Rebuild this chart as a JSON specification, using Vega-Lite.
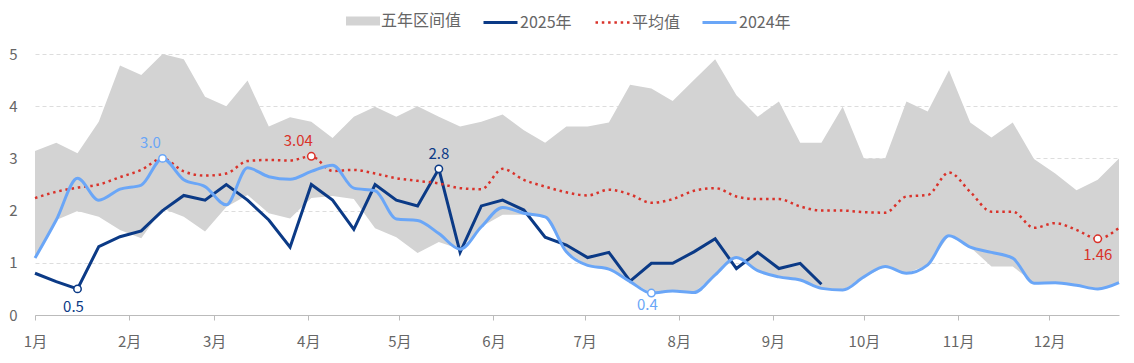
{
  "$schema": "https://vega.github.io/schema/vega-lite/v6.json",
  "width": 1084,
  "height": 261,
  "autosize": "none",
  "padding": {"left": 35, "top": 54, "right": 15, "bottom": 48},
  "background": "white",
  "config": {
    "view": {"stroke": null},
    "font": "Noto Sans CJK SC",
    "axis": {"labelFont": "Noto Sans CJK SC", "labelFontSize": 15, "labelColor": "#666666", "title": null},
    "legend": {"orient": "none", "direction": "horizontal", "title": null, "symbolSize": 1156, "labelFont": "Noto Sans CJK SC", "labelFontSize": 16, "labelColor": "#666666", "labelOffset": 1, "padding": 0}
  },
  "datasets": {
    "main": [
      {"d": "2025-01-01", "lo": 1.09, "hi": 3.14, "a": 2.24, "y24": 1.09, "y25": 0.80},
      {"d": "2025-01-08", "lo": 1.82, "hi": 3.30, "a": 2.36, "y24": 1.82, "y25": 0.64},
      {"d": "2025-01-15", "lo": 1.99, "hi": 3.10, "a": 2.44, "y24": 2.62, "y25": 0.50},
      {"d": "2025-01-22", "lo": 1.88, "hi": 3.70, "a": 2.50, "y24": 2.20, "y25": 1.31},
      {"d": "2025-01-29", "lo": 1.63, "hi": 4.78, "a": 2.64, "y24": 2.41, "y25": 1.50},
      {"d": "2025-02-05", "lo": 1.47, "hi": 4.60, "a": 2.78, "y24": 2.49, "y25": 1.61},
      {"d": "2025-02-12", "lo": 2.04, "hi": 5.00, "a": 3.00, "y24": 3.00, "y25": 2.00},
      {"d": "2025-02-19", "lo": 1.88, "hi": 4.90, "a": 2.75, "y24": 2.59, "y25": 2.29},
      {"d": "2025-02-26", "lo": 1.60, "hi": 4.18, "a": 2.67, "y24": 2.46, "y25": 2.20},
      {"d": "2025-03-05", "lo": 2.07, "hi": 4.00, "a": 2.71, "y24": 2.11, "y25": 2.50},
      {"d": "2025-03-12", "lo": 2.30, "hi": 4.49, "a": 2.95, "y24": 2.82, "y25": 2.20},
      {"d": "2025-03-19", "lo": 1.95, "hi": 3.61, "a": 2.97, "y24": 2.65, "y25": 1.82},
      {"d": "2025-03-26", "lo": 1.85, "hi": 3.79, "a": 2.96, "y24": 2.60, "y25": 1.30},
      {"d": "2025-04-02", "lo": 2.24, "hi": 3.70, "a": 3.04, "y24": 2.75, "y25": 2.50},
      {"d": "2025-04-09", "lo": 2.28, "hi": 3.39, "a": 2.76, "y24": 2.87, "y25": 2.20},
      {"d": "2025-04-16", "lo": 2.22, "hi": 3.80, "a": 2.78, "y24": 2.43, "y25": 1.64},
      {"d": "2025-04-23", "lo": 1.66, "hi": 3.99, "a": 2.71, "y24": 2.38, "y25": 2.50},
      {"d": "2025-04-30", "lo": 1.49, "hi": 3.80, "a": 2.62, "y24": 1.84, "y25": 2.20},
      {"d": "2025-05-07", "lo": 1.19, "hi": 4.00, "a": 2.57, "y24": 1.81, "y25": 2.09},
      {"d": "2025-05-14", "lo": 1.40, "hi": 3.80, "a": 2.52, "y24": 1.56, "y25": 2.80},
      {"d": "2025-05-21", "lo": 1.26, "hi": 3.61, "a": 2.43, "y24": 1.26, "y25": 1.20},
      {"d": "2025-05-28", "lo": 1.69, "hi": 3.70, "a": 2.41, "y24": 1.69, "y25": 2.09},
      {"d": "2025-06-04", "lo": 1.92, "hi": 3.84, "a": 2.80, "y24": 2.06, "y25": 2.20},
      {"d": "2025-06-11", "lo": 1.92, "hi": 3.54, "a": 2.59, "y24": 1.95, "y25": 2.01},
      {"d": "2025-06-18", "lo": 1.88, "hi": 3.30, "a": 2.46, "y24": 1.88, "y25": 1.49},
      {"d": "2025-06-25", "lo": 1.21, "hi": 3.61, "a": 2.35, "y24": 1.21, "y25": 1.34},
      {"d": "2025-07-02", "lo": 0.95, "hi": 3.61, "a": 2.29, "y24": 0.95, "y25": 1.10},
      {"d": "2025-07-09", "lo": 0.88, "hi": 3.69, "a": 2.40, "y24": 0.88, "y25": 1.20},
      {"d": "2025-07-16", "lo": 0.64, "hi": 4.41, "a": 2.31, "y24": 0.64, "y25": 0.65},
      {"d": "2025-07-23", "lo": 0.42, "hi": 4.34, "a": 2.15, "y24": 0.42, "y25": 0.99},
      {"d": "2025-07-30", "lo": 0.46, "hi": 4.10, "a": 2.22, "y24": 0.46, "y25": 0.99},
      {"d": "2025-08-06", "lo": 0.43, "hi": 4.50, "a": 2.38, "y24": 0.43, "y25": 1.21},
      {"d": "2025-08-13", "lo": 0.77, "hi": 4.90, "a": 2.43, "y24": 0.77, "y25": 1.46},
      {"d": "2025-08-20", "lo": 1.10, "hi": 4.21, "a": 2.27, "y24": 1.10, "y25": 0.89},
      {"d": "2025-08-27", "lo": 0.85, "hi": 3.80, "a": 2.22, "y24": 0.85, "y25": 1.20},
      {"d": "2025-09-03", "lo": 0.73, "hi": 4.09, "a": 2.22, "y24": 0.73, "y25": 0.89},
      {"d": "2025-09-10", "lo": 0.67, "hi": 3.30, "a": 2.08, "y24": 0.67, "y25": 0.99},
      {"d": "2025-09-17", "lo": 0.51, "hi": 3.30, "a": 2.00, "y24": 0.51, "y25": 0.59},
      {"d": "2025-09-24", "lo": 0.48, "hi": 3.99, "a": 2.00, "y24": 0.48},
      {"d": "2025-10-01", "lo": 0.73, "hi": 3.00, "a": 1.97, "y24": 0.73},
      {"d": "2025-10-08", "lo": 0.93, "hi": 3.00, "a": 1.96, "y24": 0.93},
      {"d": "2025-10-15", "lo": 0.80, "hi": 4.09, "a": 2.27, "y24": 0.80},
      {"d": "2025-10-22", "lo": 0.96, "hi": 3.90, "a": 2.30, "y24": 0.96},
      {"d": "2025-10-29", "lo": 1.52, "hi": 4.69, "a": 2.73, "y24": 1.52},
      {"d": "2025-11-05", "lo": 1.30, "hi": 3.69, "a": 2.36, "y24": 1.30},
      {"d": "2025-11-12", "lo": 0.93, "hi": 3.40, "a": 1.98, "y24": 1.20},
      {"d": "2025-11-19", "lo": 0.93, "hi": 3.69, "a": 1.98, "y24": 1.09},
      {"d": "2025-11-26", "lo": 0.61, "hi": 2.99, "a": 1.67, "y24": 0.61},
      {"d": "2025-12-03", "lo": 0.62, "hi": 2.71, "a": 1.76, "y24": 0.62},
      {"d": "2025-12-10", "lo": 0.57, "hi": 2.39, "a": 1.63, "y24": 0.57},
      {"d": "2025-12-17", "lo": 0.50, "hi": 2.59, "a": 1.46, "y24": 0.50},
      {"d": "2025-12-24", "lo": 0.62, "hi": 3.00, "a": 1.67, "y24": 0.62}
    ],
    "ann": [
      {"d": "2025-01-15", "v": 0.50, "series": "2025年", "kind": "min", "label": "0.5"},
      {"d": "2025-05-14", "v": 2.80, "series": "2025年", "kind": "max", "label": "2.8"},
      {"d": "2025-02-12", "v": 3.00, "series": "2024年", "kind": "max", "label": "3.0"},
      {"d": "2025-07-23", "v": 0.42, "series": "2024年", "kind": "min", "label": "0.4"},
      {"d": "2025-04-02", "v": 3.04, "series": "平均值", "kind": "max", "label": "3.04"},
      {"d": "2025-12-17", "v": 1.46, "series": "平均值", "kind": "min", "label": "1.46"}
    ]
  },
  "encoding": {
    "x": {
      "field": "d", "type": "temporal",
      "scale": {"type": "utc", "nice": false, "domain": [{"year": 2025, "month": 1, "date": 1, "utc": true}, {"year": 2025, "month": 12, "date": 24, "utc": true}]},
      "axis": {
        "values": [
          {"year": 2025, "month": 1, "date": 1, "utc": true},
          {"year": 2025, "month": 2, "date": 1, "utc": true},
          {"year": 2025, "month": 3, "date": 1, "utc": true},
          {"year": 2025, "month": 4, "date": 1, "utc": true},
          {"year": 2025, "month": 5, "date": 1, "utc": true},
          {"year": 2025, "month": 6, "date": 1, "utc": true},
          {"year": 2025, "month": 7, "date": 1, "utc": true},
          {"year": 2025, "month": 8, "date": 1, "utc": true},
          {"year": 2025, "month": 9, "date": 1, "utc": true},
          {"year": 2025, "month": 10, "date": 1, "utc": true},
          {"year": 2025, "month": 11, "date": 1, "utc": true},
          {"year": 2025, "month": 12, "date": 1, "utc": true}
        ],
        "format": "%-m月", "grid": false, "labelFlush": false, "labelOverlap": false,
        "domainColor": "#bbbbbb", "tickColor": "#bbbbbb", "tickSize": 5, "labelPadding": 14
      }
    }
  },
  "layer": [
    {
      "data": {"name": "main"},
      "mark": {"type": "area", "opacity": 1},
      "encoding": {
        "y": {"field": "lo", "type": "quantitative", "scale": {"domain": [0, 5], "nice": false},
          "axis": {"values": [0, 1, 2, 3, 4, 5], "domain": false, "ticks": false, "labelPadding": 18,
            "gridColor": "#dddddd", "gridDash": [4, 3]}},
        "y2": {"field": "hi"},
        "fill": {
          "datum": "五年区间值",
          "scale": {"domain": ["五年区间值"], "range": ["#d3d3d3"]},
          "legend": {"legendX": 311, "legendY": -50, "symbolType": "M-1,-0.26H1V0.26H-1Z", "symbolStrokeWidth": 0, "symbolOpacity": 1}
        }
      }
    },
    {
      "data": {"name": "main"},
      "mark": {"type": "line", "strokeWidth": 3},
      "encoding": {
        "y": {"field": "y25", "type": "quantitative"},
        "stroke": {
          "datum": "2025年",
          "scale": {"domain": ["2025年"], "range": ["#0b3a86"]},
          "legend": {"legendX": 447, "legendY": -50, "symbolType": "stroke", "symbolStrokeWidth": 3}
        }
      }
    },
    {
      "data": {"name": "main"},
      "mark": {"type": "line", "color": "#d9322a", "strokeWidth": 2.5, "interpolate": "monotone"},
      "encoding": {
        "y": {"field": "a", "type": "quantitative"},
        "strokeDash": {
          "datum": "平均值",
          "scale": {"domain": ["平均值"], "range": [[2.5, 3.8]]},
          "legend": {"legendX": 559, "legendY": -50, "symbolType": "stroke", "symbolStrokeWidth": 2.5, "symbolStrokeColor": "#d9322a"}
        }
      }
    },
    {
      "data": {"name": "main"},
      "mark": {"type": "line", "strokeWidth": 3, "interpolate": "monotone"},
      "encoding": {
        "y": {"field": "y24", "type": "quantitative"},
        "color": {
          "datum": "2024年",
          "scale": {"domain": ["2024年"], "range": ["#6aa6f7"]},
          "legend": {"legendX": 666, "legendY": -50, "symbolType": "stroke", "symbolStrokeWidth": 3}
        }
      }
    },
    {
      "data": {"name": "ann"},
      "transform": [{"filter": "datum.series === '2025年'"}],
      "mark": {"type": "point", "filled": false, "fill": "white", "fillOpacity": 1, "opacity": 1, "size": 55, "strokeWidth": 1.5, "stroke": "#0b3a86"},
      "encoding": {"y": {"field": "v", "type": "quantitative"}}
    },
    {
      "data": {"name": "ann"},
      "transform": [{"filter": "datum.series === '平均值'"}],
      "mark": {"type": "point", "filled": false, "fill": "white", "fillOpacity": 1, "opacity": 1, "size": 55, "strokeWidth": 1.5, "stroke": "#d9322a"},
      "encoding": {"y": {"field": "v", "type": "quantitative"}}
    },
    {
      "data": {"name": "ann"},
      "transform": [{"filter": "datum.series === '2024年'"}],
      "mark": {"type": "point", "filled": false, "fill": "white", "fillOpacity": 1, "opacity": 1, "size": 55, "strokeWidth": 1.5, "stroke": "#6aa6f7"},
      "encoding": {"y": {"field": "v", "type": "quantitative"}}
    },
    {
      "data": {"name": "ann"},
      "transform": [{"filter": "datum.series === '2025年' && datum.kind === 'max'"}],
      "mark": {"type": "text", "baseline": "bottom", "dy": -7, "fontSize": 15, "font": "Noto Sans CJK SC", "color": "#0b3a86"},
      "encoding": {"y": {"field": "v", "type": "quantitative"}, "text": {"field": "label"}}
    },
    {
      "data": {"name": "ann"},
      "transform": [{"filter": "datum.series === '2025年' && datum.kind === 'min'"}],
      "mark": {"type": "text", "baseline": "top", "dy": 11, "dx": -4, "fontSize": 15, "font": "Noto Sans CJK SC", "color": "#0b3a86"},
      "encoding": {"y": {"field": "v", "type": "quantitative"}, "text": {"field": "label"}}
    },
    {
      "data": {"name": "ann"},
      "transform": [{"filter": "datum.series === '平均值' && datum.kind === 'max'"}],
      "mark": {"type": "text", "baseline": "bottom", "dy": -7, "dx": -13, "fontSize": 15, "font": "Noto Sans CJK SC", "color": "#d9322a"},
      "encoding": {"y": {"field": "v", "type": "quantitative"}, "text": {"field": "label"}}
    },
    {
      "data": {"name": "ann"},
      "transform": [{"filter": "datum.series === '平均值' && datum.kind === 'min'"}],
      "mark": {"type": "text", "baseline": "top", "dy": 9, "fontSize": 15, "font": "Noto Sans CJK SC", "color": "#d9322a"},
      "encoding": {"y": {"field": "v", "type": "quantitative"}, "text": {"field": "label"}}
    },
    {
      "data": {"name": "ann"},
      "transform": [{"filter": "datum.series === '2024年' && datum.kind === 'max'"}],
      "mark": {"type": "text", "baseline": "bottom", "dy": -7, "dx": -12, "fontSize": 15, "font": "Noto Sans CJK SC", "color": "#6aa6f7"},
      "encoding": {"y": {"field": "v", "type": "quantitative"}, "text": {"field": "label"}}
    },
    {
      "data": {"name": "ann"},
      "transform": [{"filter": "datum.series === '2024年' && datum.kind === 'min'"}],
      "mark": {"type": "text", "baseline": "top", "dy": 5, "dx": -4, "fontSize": 15, "font": "Noto Sans CJK SC", "color": "#6aa6f7"},
      "encoding": {"y": {"field": "v", "type": "quantitative"}, "text": {"field": "label"}}
    }
  ]
}
